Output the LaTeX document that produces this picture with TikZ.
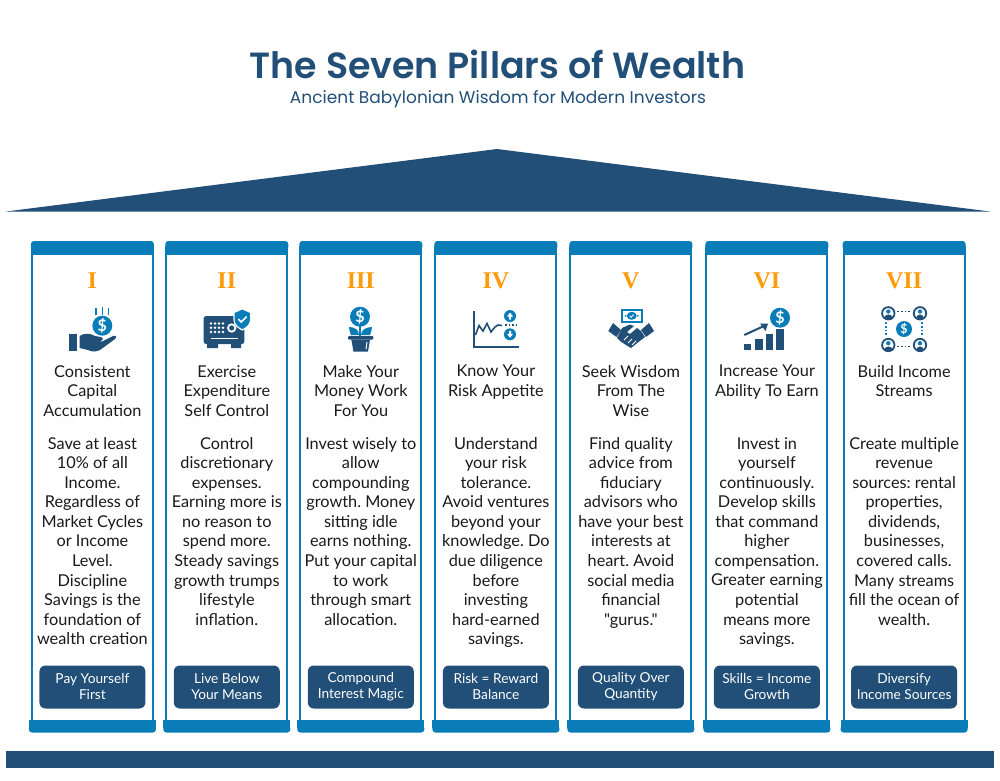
\documentclass[tikz,border=0pt]{standalone}
\usepackage{fontspec}
\setmainfont{Lato}[Ligatures=TeXOff]
\newfontfamily\titlefont[BoldFont={Poppins SemiBold}]{Poppins}
\newfontfamily\romanfont{Liberation Serif}
\definecolor{navy}{HTML}{224F78}
\definecolor{pillarblue}{HTML}{0A7DB8}
\definecolor{numeral}{HTML}{FF9A0A}
\definecolor{inktext}{HTML}{1A1A1A}
\frenchspacing

\begin{document}
\begin{tikzpicture}
[x=1pt, y=-1pt,
 shaft/.style={draw=pillarblue, fill=white, line width=2pt},
 band/.style={fill=pillarblue, rounded corners=3pt},
 numbertext/.style={text=numeral, font=\romanfont\bfseries\fontsize{24}{24}\selectfont, inner sep=0pt},
 headtext/.style={anchor=north, align=center, inner sep=0pt, text=inktext, font=\fontsize{16.3}{19.5}\selectfont},
 bodytext/.style={anchor=north, align=center, inner sep=0pt, text=inktext, font=\fontsize{16.3}{19.55}\selectfont},
 badge/.style={fill=navy, rounded corners=6pt},
 badgetext/.style={align=center, inner sep=0pt, text=white, font=\fontsize{13.7}{16}\selectfont},
 coin/.style={circle, fill=pillarblue, inner sep=0pt, text=white, font=\bfseries\fontsize{16}{16}\selectfont},
 darkline/.style={draw=navy, line width=1.6pt},
 blueline/.style={draw=pillarblue, line width=1.8pt},
]
\useasboundingbox (0,0) rectangle (1000,780);

%title
\node[text=navy, font=\titlefont\bfseries\fontsize{36.4}{40}\selectfont, inner sep=0pt] (title) at (497.5,64) {The Seven Pillars of Wealth};
\node[text=navy, font=\titlefont\fontsize{17}{20}\selectfont, inner sep=0pt] (subtitle) at (498,99.5) {Ancient Babylonian Wisdom for Modern Investors};

%roof and floor
\fill[navy] (6,211.5) -- (497,149) -- (990,211.5) -- cycle;
\fill[navy] (6,750.5) rectangle (994,767.5);

%Pillar I
\draw[shaft] (92.4-60.5,250) rectangle (92.4+60.5,725);
\fill[band] (92.4-61.5,241) rectangle (92.4+61.5,250);
\fill[pillarblue] (92.4-61.5,246) rectangle (92.4+61.5,255);
\fill[band] (92.4-63.5,732.5) rectangle (92.4+63.5,725);
\fill[pillarblue] (92.4-63.5,720) rectangle (92.4+63.5,728);
\node[numbertext] (numI) at (92.4,281) {I};
\node[headtext] (headI) at (92.4,365) {Consistent\\Capital\\Accumulation};
\node[bodytext] (bodyI) at (92.4,437) {Save at least\\10\% of all\\Income.\\Regardless of\\Market Cycles\\or Income\\Level.\\Discipline\\Savings is the\\foundation of\\wealth creation};
\fill[badge] (92.4-53,665.5) rectangle (92.4+53,708.5);
\node[badgetext] (tagI) at (92.4,686.5) {Pay Yourself\\First};

%hand and coin
\node[coin, minimum size=20pt] (coinI) at (102.3,325.7) {\$};
\draw[blueline] (96,308) -- (96,315) (102.5,307) -- (102.5,315) (108.5,308) -- (108.5,315);
\fill[navy] (69.3,334) rectangle (77.3,351);
\fill[navy] (79.5,336) .. controls (84,333) and (90,333) .. (95,336) -- (101,337)
 .. controls (104,338) and (103,341) .. (100,341) -- (92,341) -- (102,341.5)
 -- (113,336) .. controls (116,335) and (117,337) .. (115,339)
 -- (100,350) .. controls (96,352) and (92,352) .. (88,350) -- (79.5,348) -- cycle;

%Pillar II
\draw[shaft] (226.8-60.5,250) rectangle (226.8+60.5,725);
\fill[band] (226.8-61.5,241) rectangle (226.8+61.5,250);
\fill[pillarblue] (226.8-61.5,246) rectangle (226.8+61.5,255);
\fill[band] (226.8-63.5,732.5) rectangle (226.8+63.5,725);
\fill[pillarblue] (226.8-63.5,720) rectangle (226.8+63.5,728);
\node[numbertext] (numII) at (226.8,281) {II};
\node[headtext] (headII) at (226.8,365) {Exercise\\Expenditure\\Self Control};
\node[bodytext] (bodyII) at (226.8,437) {Control\\discretionary\\expenses.\\Earning more is\\no reason to\\spend more.\\Steady savings\\growth trumps\\lifestyle\\inflation.};
\fill[badge] (226.8-53,665.5) rectangle (226.8+53,708.5);
\node[badgetext] (tagII) at (226.8,686.5) {Live Below\\Your Means};

%safe and shield
\fill[navy, rounded corners=2.5pt] (203.7,316) rectangle (244.3,344);
\fill[navy] (207,343) rectangle (218,348) (231,343) rectangle (241,348);
\foreach \dotx in {211,215,219,223}
  \foreach \doty in {323.5,327.7,332}
    \fill[white] (\dotx,\doty) circle (1.4);
\draw[white, line width=1.8pt] (231.7,328) circle (3.7);
\draw[white, line width=1.3pt] (210.7,338.7) -- (238,338.7);
\draw[white, line width=1.2pt, fill=pillarblue] (242.3,308.8) -- (250.6,312.5) -- (250.6,320) .. controls (250.6,325) and (246,328) .. (242.3,330)
 .. controls (238.6,328) and (234,325) .. (234,320) -- (234,312.5) -- cycle;
\draw[white, line width=1.5pt] (238.3,319) -- (241.3,322) -- (246.7,316.5);

%Pillar III
\draw[shaft] (360.8-60.5,250) rectangle (360.8+60.5,725);
\fill[band] (360.8-61.5,241) rectangle (360.8+61.5,250);
\fill[pillarblue] (360.8-61.5,246) rectangle (360.8+61.5,255);
\fill[band] (360.8-63.5,732.5) rectangle (360.8+63.5,725);
\fill[pillarblue] (360.8-63.5,720) rectangle (360.8+63.5,728);
\node[numbertext] (numIII) at (360.8,281) {III};
\node[headtext] (headIII) at (360.8,365) {Make Your\\Money Work\\For You};
\node[bodytext] (bodyIII) at (360.8,437) {Invest wisely to\\allow\\compounding\\growth. Money\\sitting idle\\earns nothing.\\Put your capital\\to work\\through smart\\allocation.};
\fill[badge] (360.8-53,665.5) rectangle (360.8+53,708.5);
\node[badgetext] (tagIII) at (360.8,686.5) {Compound\\Interest Magic};

%plant in pot
\node[coin, minimum size=20pt] (coinIII) at (360,316.7) {\$};
\draw[blueline] (360,326) -- (360,336);
\fill[pillarblue] (349,327) .. controls (355,327) and (359,330) .. (359,335) -- (351,335) .. controls (350,332) and (349,330) .. (349,327) -- cycle;
\fill[pillarblue] (372,327) .. controls (366,327) and (361,330) .. (361,335) -- (370,335) .. controls (371,332) and (372,330) .. (372,327) -- cycle;
\fill[navy, rounded corners=1pt] (348,336) rectangle (373.3,339.5);
\fill[navy] (351.3,339.5) -- (370,339.5) -- (368,351.7) -- (353.5,351.7) -- cycle;
\draw[white, line width=1pt] (367,342) -- (366,349);

%Pillar IV
\draw[shaft] (495.9-60.5,250) rectangle (495.9+60.5,725);
\fill[band] (495.9-61.5,241) rectangle (495.9+61.5,250);
\fill[pillarblue] (495.9-61.5,246) rectangle (495.9+61.5,255);
\fill[band] (495.9-63.5,732.5) rectangle (495.9+63.5,725);
\fill[pillarblue] (495.9-63.5,720) rectangle (495.9+63.5,728);
\node[numbertext] (numIV) at (495.9,281) {IV};
\node[headtext] (headIV) at (495.9,365) {Know Your\\Risk Appetite};
\node[bodytext] (bodyIV) at (495.9,437) {Understand\\your risk\\tolerance.\\Avoid ventures\\beyond your\\knowledge. Do\\due diligence\\before\\investing\\hard-earned\\savings.};
\fill[badge] (495.9-53,665.5) rectangle (495.9+53,708.5);
\node[badgetext] (tagIV) at (495.9,686.5) {Risk = Reward\\Balance};

%chart
\draw[darkline] (473.8,311) -- (473.8,346.7) -- (518.7,346.7);
\draw[darkline] (475.5,335) -- (479,325.5) -- (483,331) -- (487,323.5) -- (491,332) -- (495,327) -- (498,325) -- (502,325.5);
\draw[navy, line width=1.5pt, dotted] (505,325) -- (517,325);
\fill[pillarblue] (510,316) circle (6) (510,334.3) circle (6);
\fill[white] (510,312.5) -- (513,316.5) -- (511,316.5) -- (511,319.5) -- (509,319.5) -- (509,316.5) -- (507,316.5) -- cycle;
\fill[white] (510,337.8) -- (513,333.8) -- (511,333.8) -- (511,330.8) -- (509,330.8) -- (509,333.8) -- (507,333.8) -- cycle;

%Pillar V
\draw[shaft] (630.9-60.5,250) rectangle (630.9+60.5,725);
\fill[band] (630.9-61.5,241) rectangle (630.9+61.5,250);
\fill[pillarblue] (630.9-61.5,246) rectangle (630.9+61.5,255);
\fill[band] (630.9-63.5,732.5) rectangle (630.9+63.5,725);
\fill[pillarblue] (630.9-63.5,720) rectangle (630.9+63.5,728);
\node[numbertext] (numV) at (630.9,281) {V};
\node[headtext] (headV) at (630.9,365) {Seek Wisdom\\From The\\Wise};
\node[bodytext] (bodyV) at (630.9,437) {Find quality\\advice from\\fiduciary\\advisors who\\have your best\\interests at\\heart. Avoid\\social media\\financial\\"gurus."};
\fill[badge] (630.9-53,665.5) rectangle (630.9+53,708.5);
\node[badgetext] (tagV) at (630.9,686.5) {Quality Over\\Quantity};

%banknote and handshake
\fill[pillarblue] (620.7,309) rectangle (642.7,322.5);
\fill[white] (622.7,311) rectangle (640.7,320.5);
\fill[pillarblue] (631.7,315.8) ellipse (5 and 4);
\fill[pillarblue] (625.5,315.8) circle (1) (637.9,315.8) circle (1);
\draw[white, line width=.8pt] (629.7,316) -- (631.2,317.3) -- (633.7,314.5);
\fill[navy] (613,323) -- (621,330) -- (616.5,337) -- (608.3,331) -- cycle;
\fill[navy] (649,323) -- (654,331) -- (646,337) -- (641,330) -- cycle;
\fill[navy] (622,328) -- (630,324.5) -- (634,326) -- (627,332) -- (630,334) -- (637,328) -- (641,331) -- (645,337)
 -- (636,344) -- (631,348) -- (626,345) -- (620,341) -- (617,338) -- cycle;
\draw[white, line width=.8pt] (624,340) -- (628,336) (628,343) -- (632,339) (632,345) -- (636,341);

%Pillar VI
\draw[shaft] (766.9-60.5,250) rectangle (766.9+60.5,725);
\fill[band] (766.9-61.5,241) rectangle (766.9+61.5,250);
\fill[pillarblue] (766.9-61.5,246) rectangle (766.9+61.5,255);
\fill[band] (766.9-63.5,732.5) rectangle (766.9+63.5,725);
\fill[pillarblue] (766.9-63.5,720) rectangle (766.9+63.5,728);
\node[numbertext] (numVI) at (766.9,281) {VI};
\node[headtext] (headVI) at (766.9,365) {Increase Your\\Ability To Earn};
\node[bodytext] (bodyVI) at (766.9,437) {Invest in\\yourself\\continuously.\\Develop skills\\that command\\higher\\compensation.\\Greater earning\\potential\\means more\\savings.};
\fill[badge] (766.9-53,665.5) rectangle (766.9+53,708.5);
\node[badgetext] (tagVI) at (766.9,686.5) {Skills = Income\\Growth};

%bars and arrow
\fill[navy] (744,344) rectangle (751.3,350.3);
\fill[navy] (755,339.3) rectangle (762.7,350.3);
\fill[navy] (765.7,334) rectangle (773.3,350.3);
\fill[navy] (776,329.3) rectangle (783.7,350.3);
\node[coin, minimum size=20pt] (coinVI) at (780,317.7) {\$};
\draw[navy, line width=2pt] (744.3,335) -- (765,325.5);
\fill[navy] (768,323.5) -- (760,323.5) -- (765.5,331) -- cycle;

%Pillar VII
\draw[shaft] (904.1-60.5,250) rectangle (904.1+60.5,725);
\fill[band] (904.1-61.5,241) rectangle (904.1+61.5,250);
\fill[pillarblue] (904.1-61.5,246) rectangle (904.1+61.5,255);
\fill[band] (904.1-63.5,732.5) rectangle (904.1+63.5,725);
\fill[pillarblue] (904.1-63.5,720) rectangle (904.1+63.5,728);
\node[numbertext] (numVII) at (904.1,281) {VII};
\node[headtext] (headVII) at (904.1,365) {Build Income\\Streams};
\node[bodytext] (bodyVII) at (904.1,437) {Create multiple\\revenue\\sources: rental\\properties,\\dividends,\\businesses,\\covered calls.\\Many streams\\fill the ocean of\\wealth.};
\fill[badge] (904.1-53,665.5) rectangle (904.1+53,708.5);
\node[badgetext] (tagVII) at (904.1,686.5) {Diversify\\Income Sources};

%people around a coin
\node[coin, minimum size=16pt, font=\bfseries\fontsize{12.5}{12.5}\selectfont] (coinVII) at (904,329) {\$};
\draw[navy, line width=1.8pt, dotted] (897,311.5) -- (912,311.5) (897,346.5) -- (912,346.5);
\draw[pillarblue, line width=1.8pt, dotted] (886,322) -- (886,337) (922,322) -- (922,337);
\draw[navy, line width=1.8pt] (888.3,313.3) circle (6.2) (920,313.3) circle (6.2) (888.3,345) circle (6.2) (920,345) circle (6.2);
\fill[pillarblue] (888.3,311.5) circle (2.2) (920,311.5) circle (2.2) (888.3,343.2) circle (2.2) (920,343.2) circle (2.2);
\fill[navy] (884,319) .. controls (884,313) and (892.6,313) .. (892.6,319) -- cycle;
\fill[navy] (915.7,319) .. controls (915.7,313) and (924.3,313) .. (924.3,319) -- cycle;
\fill[navy] (884,350.7) .. controls (884,344.7) and (892.6,344.7) .. (892.6,350.7) -- cycle;
\fill[navy] (915.7,350.7) .. controls (915.7,344.7) and (924.3,344.7) .. (924.3,350.7) -- cycle;

\end{tikzpicture}
\end{document}
